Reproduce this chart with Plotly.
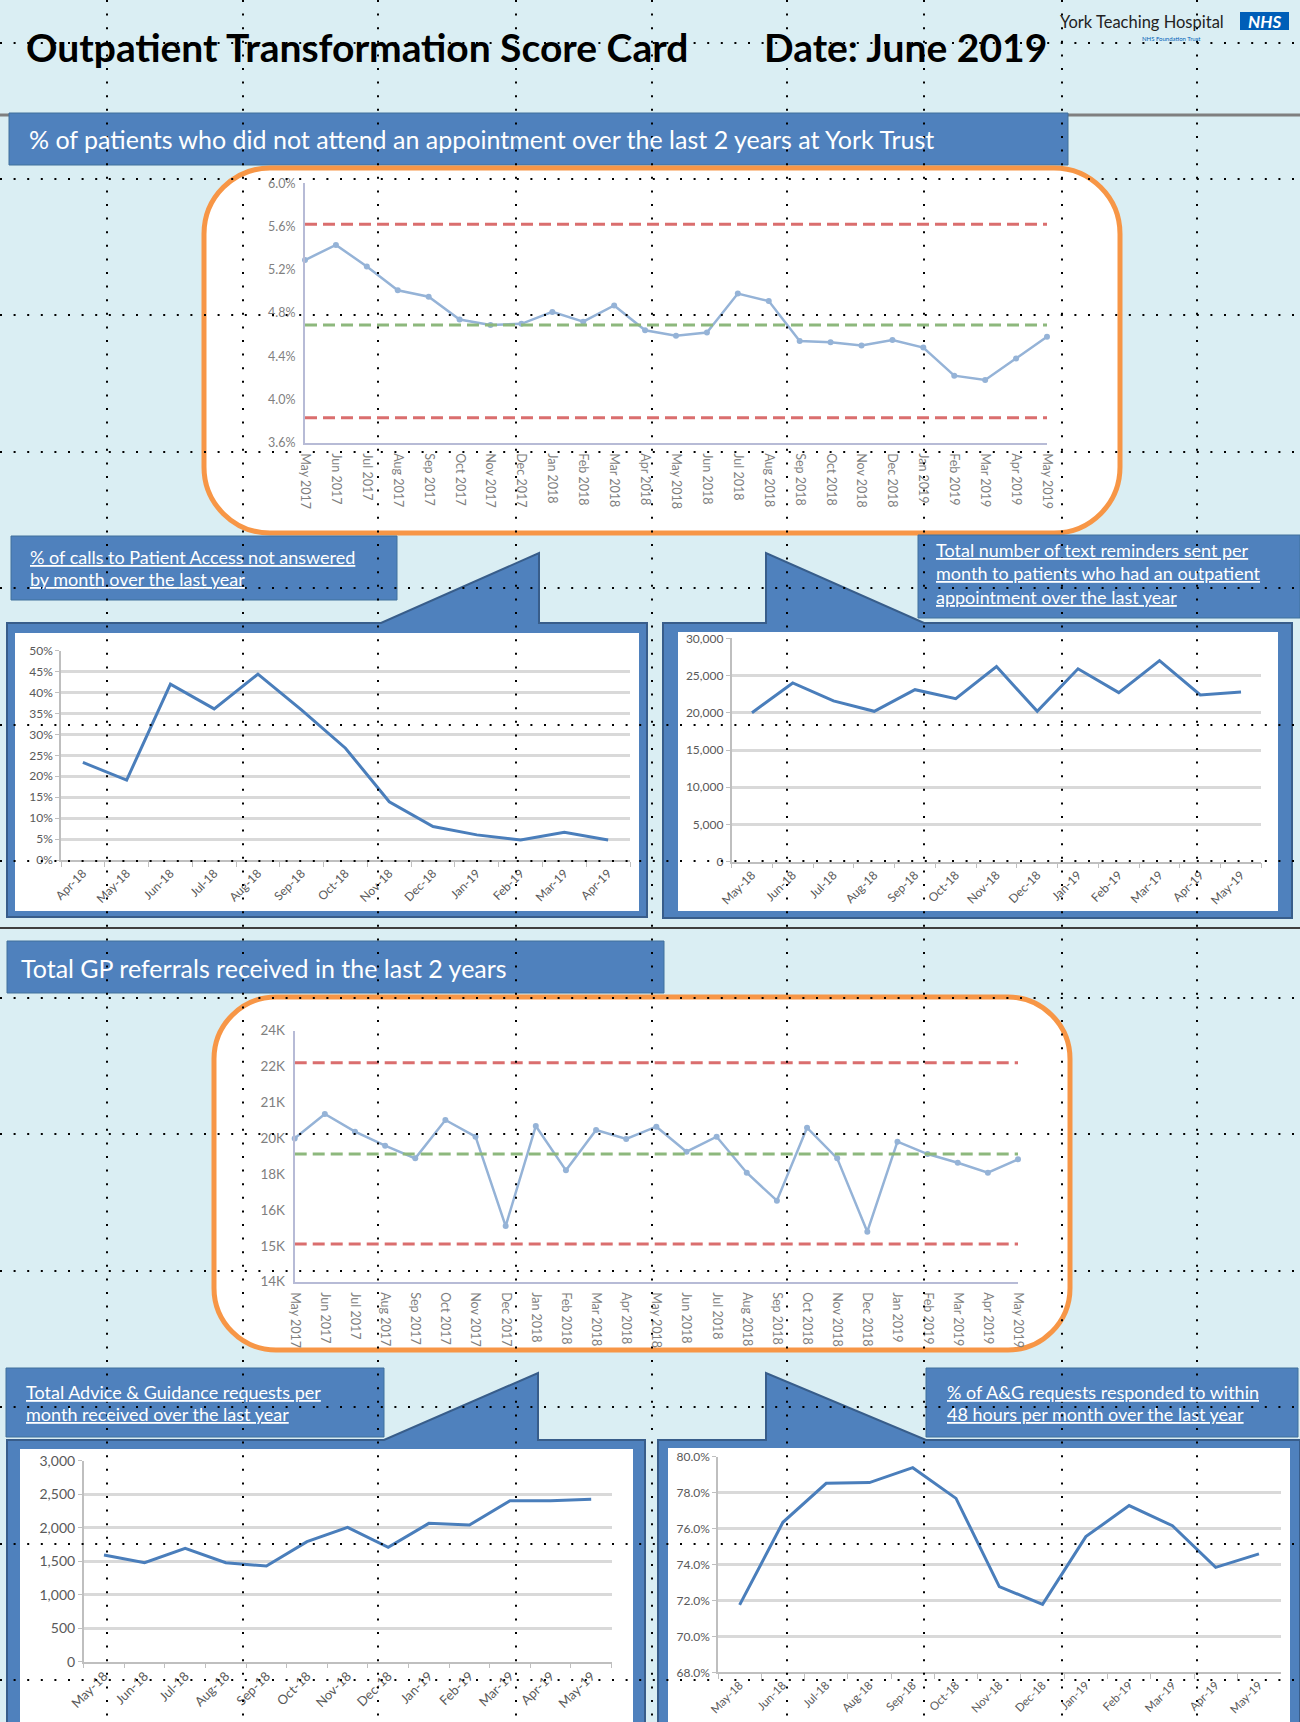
import plotly.graph_objects as go

W, H = 1300, 1722
FONT = "Lato"

# ---------------- data ----------------
dna_months = ["May 2017", "Jun 2017", "Jul 2017", "Aug 2017", "Sep 2017", "Oct 2017", "Nov 2017",
              "Dec 2017", "Jan 2018", "Feb 2018", "Mar 2018", "Apr 2018", "May 2018", "Jun 2018",
              "Jul 2018", "Aug 2018", "Sep 2018", "Oct 2018", "Nov 2018", "Dec 2018", "Jan 2019",
              "Feb 2019", "Mar 2019", "Apr 2019", "May 2019"]
dna_rate = [5.29, 5.43, 5.23, 5.01, 4.95, 4.74, 4.69, 4.70, 4.81, 4.72, 4.87, 4.64, 4.59,
            4.62, 4.98, 4.91, 4.54, 4.53, 4.50, 4.55, 4.48, 4.22, 4.18, 4.38, 4.58]
dna_ucl, dna_mean, dna_lcl = 5.62, 4.69, 3.83

calls_months = ["Apr-18", "May-18", "Jun-18", "Jul-18", "Aug-18", "Sep-18", "Oct-18",
                "Nov-18", "Dec-18", "Jan-19", "Feb-19", "Mar-19", "Apr-19"]
calls_unanswered = [23.3, 19.1, 42.0, 36.1, 44.4, 35.8, 26.7, 13.9, 8.0, 6.0, 4.8, 6.6, 4.8]

year_months = ["May-18", "Jun-18", "Jul-18", "Aug-18", "Sep-18", "Oct-18", "Nov-18",
               "Dec-18", "Jan-19", "Feb-19", "Mar-19", "Apr-19", "May-19"]
text_reminders = [20000, 24000, 21600, 20200, 23100, 21900, 26200, 20200, 25900, 22700,
                  27000, 22400, 22800]

gp_months = dna_months
gp_referrals = [19710, 20680, 19976, 19418, 18914, 20441, 19777, 16218, 20202, 18436, 20042,
                19684, 20175, 19179, 19777, 18343, 17227, 20135, 18914, 15992, 19578, 19086,
                18741, 18343, 18874]
gp_ucl, gp_mean, gp_lcl = 22725, 19086, 15500
gp_tickvals = [14000 + i * 10000 / 7 for i in range(8)]
gp_ticktext = ["14K", "15K", "16K", "18K", "20K", "21K", "22K", "24K"]

ag_requests = [1592, 1478, 1692, 1478, 1428, 1791, 2005, 1706, 2065, 2040, 2403, 2403, 2423]
ag_48h_pct = [71.75, 76.35, 78.52, 78.56, 79.39, 77.68, 72.77, 71.78, 75.55, 77.28, 76.16,
              73.84, 74.59]

# ---------------- helpers ----------------
def X(x):
    return x / W


def Y(y):
    return 1 - y / H


def P(x, y):
    return f"{X(x):.6f},{Y(y):.6f}"


shapes = []
annotations = []

BLUE = "#4F81BD"
BLUE_EDGE = "#385D8A"
ORANGE = "#F79646"


def rect(x0, y0, x1, y1, fill, line=None, lw=0, layer="below"):
    shapes.append(dict(type="rect", xref="paper", yref="paper", x0=X(x0), x1=X(x1),
                       y0=Y(y1), y1=Y(y0), fillcolor=fill,
                       line=dict(color=line or fill, width=lw), layer=layer))


def poly(pts, fill, line, lw):
    d = "M " + " L ".join(P(x, y) for x, y in pts) + " Z"
    shapes.append(dict(type="path", xref="paper", yref="paper", path=d, fillcolor=fill,
                       line=dict(color=line, width=lw), layer="below"))


def rounded(x0, y0, x1, y1, r, fill, line, lw):
    k = 0.5523 * r
    d = (f"M {P(x0 + r, y0)} L {P(x1 - r, y0)} C {P(x1 - r + k, y0)} {P(x1, y0 + r - k)} {P(x1, y0 + r)} "
         f"L {P(x1, y1 - r)} C {P(x1, y1 - r + k)} {P(x1 - r + k, y1)} {P(x1 - r, y1)} "
         f"L {P(x0 + r, y1)} C {P(x0 + r - k, y1)} {P(x0, y1 - r + k)} {P(x0, y1 - r)} "
         f"L {P(x0, y0 + r)} C {P(x0, y0 + r - k)} {P(x0 + r - k, y0)} {P(x0 + r, y0)} Z")
    shapes.append(dict(type="path", xref="paper", yref="paper", path=d, fillcolor=fill,
                       line=dict(color=line, width=lw), layer="below"))


def hline(y, x0, x1, color, width, dash="solid", layer="below"):
    shapes.append(dict(type="line", xref="paper", yref="paper", x0=X(x0), x1=X(x1),
                       y0=Y(y), y1=Y(y), line=dict(color=color, width=width, dash=dash),
                       layer=layer))


def vline(x, y0, y1, color, width, dash="solid", layer="below"):
    shapes.append(dict(type="line", xref="paper", yref="paper", x0=X(x), x1=X(x),
                       y0=Y(y0), y1=Y(y1), line=dict(color=color, width=width, dash=dash),
                       layer=layer))


def text(x, y, s, size, color="white", bold=False, xanchor="left", family=FONT):
    if bold:
        s = f"<b>{s}</b>"
    annotations.append(dict(xref="paper", yref="paper", x=X(x), y=Y(y), text=s,
                            showarrow=False, xanchor=xanchor, yanchor="middle",
                            font=dict(family=family, size=size, color=color)))


# ---------------- page decoration ----------------
# header
text(24, 47, "Outpatient Transformation Score Card", 39, color="black", bold=True)
text(762, 47, "Date: June 2019", 39, color="black", bold=True)
text(1058, 22, "York Teaching Hospital", 16.5, color="#222222")
rect(1240, 12, 1289, 30, "#005EB8")
text(1264.5, 21, "<b><i>NHS</i></b>", 17, color="white", xanchor="center")
text(1140, 38, "NHS Foundation Trust", 6, color="#005EB8")

hline(115, 0, W, "#7F7F7F", 3)

# section 1 title
rect(9, 113, 1068, 165, BLUE, "#41719C", 1)
text(27, 139, "% of patients who did not attend an appointment over the last 2 years at York Trust", 25)

# orange box 1
rounded(204, 168, 1120, 533, 66, "white", ORANGE, 5)

# left callout (calls)
poly([(7, 623), (381, 623), (539, 553), (539, 623), (647, 623), (647, 917), (7, 917)], BLUE, BLUE_EDGE, 2)
rect(15, 633, 639, 911, "white")
rect(11, 536, 397, 600, BLUE, "#41719C", 1)
text(28, 557, "<u>% of calls to Patient Access not answered</u>", 18)
text(28, 579, "<u>by month over the last year</u>", 18)

# right callout (text reminders)
poly([(663, 623), (766, 623), (766, 553), (924, 623), (1292, 623), (1292, 918), (663, 918)], BLUE, BLUE_EDGE, 2)
rect(678, 632, 1278, 911, "white")
rect(918, 535, 1300, 618, BLUE, "#41719C", 1)
text(934, 550, "<u>Total number of text reminders sent per</u>", 18)
text(934, 573, "<u>month to patients who had an outpatient</u>", 18)
text(934, 597, "<u>appointment over the last year</u>", 18)

# divider
hline(928, 0, W, "#3F3F3F", 2)

# section 2 title
rect(7, 941, 664, 993, BLUE, "#41719C", 1)
text(19, 968, "Total GP referrals received in the last 2 years", 25)

# orange box 2
rounded(214, 997, 1070, 1350, 62, "white", ORANGE, 5)

# bottom-left callout (A&G requests)
poly([(7, 1440), (384, 1440), (538, 1373), (538, 1440), (645, 1440), (645, 1760), (7, 1760)], BLUE, BLUE_EDGE, 2)
rect(20, 1449, 633, 1760, "white")
rect(6, 1368, 384, 1437, BLUE, "#41719C", 1)
text(24, 1392, "<u>Total Advice & Guidance requests per</u>", 18)
text(24, 1414, "<u>month received over the last year</u>", 18)

# bottom-right callout (A&G 48h)
poly([(658, 1440), (766, 1440), (766, 1373), (926, 1440), (1300, 1440), (1300, 1760), (658, 1760)], BLUE, BLUE_EDGE, 2)
rect(668, 1448, 1290, 1760, "white")
rect(926, 1368, 1298, 1437, BLUE, "#41719C", 1)
text(945, 1392, "<u>% of A&G requests responded to within</u>", 18)
text(945, 1414, "<u>48 hours per month over the last year</u>", 18)

# dotted page grid overlay
for vx in [107, 243, 378, 516, 652, 787, 924, 1062, 1197]:
    vline(vx, 0, H, "black", 2, dash="2px,11.6px", layer="above")
for hy in [43, 179, 315, 452, 588, 725, 861, 998, 1134, 1271, 1407, 1544, 1680]:
    hline(hy, 0, W, "black", 2, dash="2px,11.6px", layer="above")

# ---------------- charts ----------------
fig = go.Figure()

SPC_LINE = "#95B3D7"
RED = "#DA6E6E"
GREEN = "#8DB87D"
LINE = "#4A7EBB"
AX = "#B7BBD6"


def spc(xa, ya, cats, vals, ucl, mean, lcl):
    fig.add_trace(go.Scatter(x=cats, y=vals, mode="lines+markers", xaxis=xa, yaxis=ya,
                             line=dict(color=SPC_LINE, width=2.5),
                             marker=dict(color=SPC_LINE, size=6), cliponaxis=False))
    for v, c in [(ucl, RED), (mean, GREEN), (lcl, RED)]:
        fig.add_trace(go.Scatter(x=[cats[0], cats[-1]], y=[v, v], mode="lines", xaxis=xa,
                                 yaxis=ya, line=dict(color=c, width=3, dash="12px,6px"),
                                 cliponaxis=False))


def small(xa, ya, cats, vals):
    fig.add_trace(go.Scatter(x=cats, y=vals, mode="lines", xaxis=xa, yaxis=ya,
                             line=dict(color=LINE, width=3), cliponaxis=False))


spc("x", "y", dna_months, dna_rate, dna_ucl, dna_mean, dna_lcl)
small("x2", "y2", calls_months, calls_unanswered)
small("x3", "y3", year_months, text_reminders)
spc("x4", "y4", gp_months, gp_referrals, gp_ucl, gp_mean, gp_lcl)
small("x5", "y5", year_months, ag_requests)
small("x6", "y6", year_months, ag_48h_pct)

tick_gray = dict(family=FONT, size=12.5, color="#7F7F7F")
tick_dark = dict(family=FONT, size=12, color="#595959")


def spc_x(dom, anchor):
    return dict(domain=[X(dom[0]), X(dom[1])], anchor=anchor, type="category", range=[0, 24],
                tickangle=90, showline=True, linecolor=AX, linewidth=2, showgrid=False,
                ticks="", tickfont=tick_gray, ticklabelstandoff=6, fixedrange=True,
                automargin=False)


def small_x(dom, anchor, size=12):
    return dict(domain=[X(dom[0]), X(dom[1])], anchor=anchor, type="category",
                range=[-0.5, 12.5], tickangle=-45, showline=True, linecolor="#BFBFBF",
                linewidth=1.5, showgrid=False, ticks="outside", tickson="boundaries",
                ticklen=5, tickcolor="#BFBFBF", automargin=False,
                tickfont=dict(family=FONT, size=size, color="#595959"))


def small_y(dom, anchor, rng, dtick, **kw):
    d = dict(domain=[Y(dom[1]), Y(dom[0])], anchor=anchor, range=rng, dtick=dtick,
             showline=True, linecolor="#BFBFBF", linewidth=1.5, showgrid=True,
             gridcolor="#D9D9D9", gridwidth=2.5, zeroline=False, ticks="outside",
             ticklen=4, tickcolor="#BFBFBF", tickfont=tick_dark, automargin=False)
    d.update(kw)
    return d


fig.update_layout(
    width=W, height=H, autosize=False,
    margin=dict(l=0, r=0, t=0, b=0, pad=0),
    paper_bgcolor="#DAEEF3", plot_bgcolor="rgba(0,0,0,0)",
    showlegend=False,
    font=dict(family=FONT),
    shapes=shapes, annotations=annotations,
    xaxis=spc_x((305, 1047), "y"),
    yaxis=dict(domain=[Y(442.7), Y(183.3)], anchor="x", range=[3.6, 6.0], tick0=3.6, dtick=0.4,
               tickformat=".1f", ticksuffix="%", showline=True, linecolor=AX, linewidth=2,
               showgrid=False, zeroline=False, tickfont=tick_gray, ticklabelstandoff=5,
               automargin=False),
    xaxis2=small_x((61, 630), "y2", 12),
    yaxis2=small_y((650.7, 860), "x2", [0, 50], 5, ticksuffix="%",
                   tickfont=dict(family=FONT, size=12, color="#595959")),
    xaxis3=small_x((731.6, 1261.4), "y3", 12),
    yaxis3=small_y((638.3, 861.7), "x3", [0, 30000], 5000, tickformat=",d"),
    xaxis4=spc_x((294.7, 1018), "y4"),
    yaxis4=dict(domain=[Y(1281.7), Y(1030.7)], anchor="x4", range=[14000, 24000],
                tickvals=gp_tickvals, ticktext=gp_ticktext, showline=True, linecolor=AX,
                linewidth=2, showgrid=False, zeroline=False,
                tickfont=dict(family=FONT, size=13.5, color="#7F7F7F"),
                ticklabelstandoff=5, automargin=False),
    xaxis5=small_x((83.7, 611.5), "y5", 13),
    yaxis5=small_y((1460.7, 1661.7), "x5", [0, 3000], 500, tickformat=",d",
                   tickfont=dict(family=FONT, size=14, color="#595959")),
    xaxis6=small_x((718, 1280.6), "y6", 11.5),
    yaxis6=small_y((1456.7, 1672.3), "x6", [68, 80], 2, tickformat=".1f", ticksuffix="%",
                   tickfont=dict(family=FONT, size=12, color="#595959")),
)

fig.write_html("out.html", config={"displayModeBar": False},
               post_script="document.body.style.margin='0';")
